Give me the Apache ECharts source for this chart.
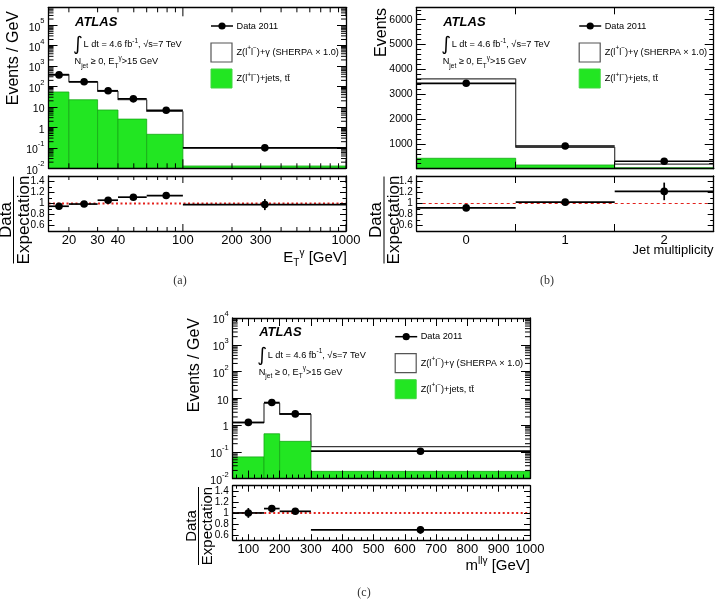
<!DOCTYPE html>
<html>
<head>
<meta charset="utf-8">
<script src="https://cdn.jsdelivr.net/npm/echarts@6.0.0/dist/echarts.min.js"></script>
<style>
html, body { margin: 0; padding: 0; background: #fff; }
#chart { width: 719px; height: 606px; }
</style>
</head>
<body>
<div id="chart"></div>
<script>
// (a) photon transverse energy
const etEdges = [15, 20, 30, 40, 60, 100, 1000];
const etCenters = [17.4, 24.8, 34.8, 49.7, 79, 318];
const etData = [370, 170, 62, 25, 6.9, 0.1];
const etDataErr = [6, 2.8, 1.5, 0.8, 0.3, 0.012];
const etMC = [390, 170, 58.5, 22.5, 6.0, 0.102];
const etBkg = [54, 22.5, 7.1, 2.55, 0.46, 0.013];
const etRatio = [0.95, 0.99, 1.06, 1.115, 1.145, 0.98];
const etRatioErr = [0.02, 0.015, 0.02, 0.025, 0.035, 0.1];
const etTicks = [20, 30, 40, 50, 60, 70, 80, 90, 100, 200, 300, 400, 500, 600, 700, 800, 900, 1000];
const etTickLabels = [20, 30, 40, 100, 200, 300, 1000];

// (b) jet multiplicity
const jetCats = ['0', '1', '2'];
const jetData = [3440, 915, 300];
const jetDataErr = [60, 30, 17];
const jetMC = [3620, 860, 185];
const jetBkg = [420, 150, 40];
const jetRatio = [0.92, 1.025, 1.22];
const jetRatioErr = [0.02, 0.035, 0.16];

// (c) l l gamma mass
const mEdges = [50, 150, 200, 300, 1000];
const mCenters = [100, 175, 250, 650];
const mData = [1.25, 6.9, 2.6, 0.105];
const mDataErr = [0.05, 0.2, 0.1, 0.01];
const mMC = [1.22, 6.5, 2.5, 0.155];
const mBkg = [0.064, 0.47, 0.245, 0.0185];
const mRatio = [1.0, 1.08, 1.03, 0.69];
const mRatioErr = [0.09, 0.035, 0.035, 0.07];

const FONT = '"Liberation Sans", Arial, Helvetica, sans-serif';
const GREEN = '#22e622';
const jetEdges = jetCats.map((c, i) => i - 0.5).concat([jetCats.length - 0.5]);
const jetCenters = jetCats.map((c, i) => i);

const stepData = (edges, vals) => edges.map((e, i) => [e, vals[Math.min(i, vals.length - 1)]]);
const binData = (edges, vals) => vals.map((v, i) => [edges[i], edges[i + 1], v]);
const pointData = (edges, centers, vals, errs) => vals.map((v, i) => [edges[i], edges[i + 1], centers[i], v, errs[i]]);

function renderFill(params, api) {
  const cs = params.coordSys;
  const a = api.coord([api.value(0), api.value(2)]);
  const b = api.coord([api.value(1), api.value(2)]);
  const bottom = cs.y + cs.height;
  return { type: 'rect', shape: { x: a[0], y: a[1], width: b[0] - a[0], height: bottom - a[1] },
    style: { fill: GREEN, stroke: '#16a816', lineWidth: 0.8 } };
}

function renderPoint(params, api) {
  const lo = api.value(0), hi = api.value(1), xc = api.value(2), v = api.value(3), e = api.value(4);
  const l = api.coord([lo, v]), r = api.coord([hi, v]), c = api.coord([xc, v]);
  const t = api.coord([xc, v + e]), b = api.coord([xc, v - e]);
  const st = { stroke: '#000', lineWidth: 1.7 };
  return { type: 'group', children: [
    { type: 'line', shape: { x1: l[0], y1: l[1], x2: r[0], y2: r[1] }, style: st },
    { type: 'line', shape: { x1: c[0], y1: t[1], x2: c[0], y2: b[1] }, style: st },
    { type: 'circle', shape: { cx: c[0], cy: c[1], r: 3.8 }, style: { fill: '#000' } }
  ] };
}

// ticks (and labels) for the log ET axis
function logXTicks(labels, showLabels, majLen, minLen) {
  return function (params, api) {
    const v = api.value(0);
    const cs = params.coordSys;
    const x = api.coord([v, 1])[0];
    const lg = Math.log10(v);
    const len = Math.abs(lg - Math.round(lg)) < 1e-9 ? majLen : minLen;
    const st = { stroke: '#000', lineWidth: 1 };
    const bot = cs.y + cs.height;
    const kids = [
      { type: 'line', shape: { x1: x, y1: bot, x2: x, y2: bot - len }, style: st },
      { type: 'line', shape: { x1: x, y1: cs.y, x2: x, y2: cs.y + len }, style: st }
    ];
    if (showLabels && labels.indexOf(v) >= 0) {
      kids.push({ type: 'text', x: x, y: bot + 3,
        style: { text: String(v), font: '13px ' + FONT, fill: '#000', align: 'center', verticalAlign: 'top' } });
    }
    return { type: 'group', children: kids };
  };
}

function logYMinor(params, api) {
  const cs = params.coordSys;
  const y = api.coord([api.value(0), api.value(1)])[1];
  const st = { stroke: '#000', lineWidth: 1 };
  return { type: 'group', children: [
    { type: 'line', shape: { x1: cs.x, y1: y, x2: cs.x + 5, y2: y }, style: st },
    { type: 'line', shape: { x1: cs.x + cs.width, y1: y, x2: cs.x + cs.width - 5, y2: y }, style: st }
  ] };
}

function minorLogValues(eMin, eMax, max) {
  const out = [];
  for (let e = eMin; e <= eMax; e++) {
    for (let k = 2; k <= 9; k++) {
      const v = k * Math.pow(10, e);
      if (v < max) out.push(v);
    }
  }
  return out;
}

function powLabel(v) {
  const e = Math.log10(v), r = Math.round(e);
  if (Math.abs(e - r) > 1e-6) return '';
  if (r === 0) return '{b|1}';
  if (r === 1) return '{b|10}';
  return '{b|10}{s|' + r + '}';
}
const powRich = {
  b: { fontSize: 10.5, fontFamily: FONT, color: '#000', lineHeight: 16, verticalAlign: 'bottom' },
  s: { fontSize: 7.5, fontFamily: FONT, color: '#000', lineHeight: 8, verticalAlign: 'top' }
};
const ratioLabel = v => (v < 0.55 || v > 1.45) ? '' : String(Math.round(v * 10) / 10);

const line = { show: true, onZero: false, lineStyle: { color: '#000', width: 1.3 } };
const noSplit = { show: false };

const G = [
  { left: 48.5, top: 7.3, width: 297.5, height: 161 },
  { left: 48.5, top: 176, width: 297.5, height: 55 },
  { left: 416.7, top: 7.3, width: 297, height: 161.4 },
  { left: 416.7, top: 176, width: 297, height: 55 },
  { left: 232.7, top: 318, width: 297.3, height: 160.5 },
  { left: 232.7, top: 485.7, width: 297.3, height: 54.5 }
];

function logX(gi, pos, min, max) {
  return { type: 'log', gridIndex: gi, position: pos, min, max, z: 10, axisLine: line,
    axisTick: { show: false }, axisLabel: { show: false }, splitLine: noSplit };
}
function catX(gi, pos, labels) {
  return { type: 'category', gridIndex: gi, position: pos, data: jetCats, boundaryGap: true, z: 10, axisLine: line,
    axisTick: { show: true, inside: true, length: 7, alignWithLabel: false, lineStyle: { color: '#000' } },
    axisLabel: { show: labels, margin: 3, fontSize: 13, fontFamily: FONT, color: '#000' }, splitLine: noSplit };
}
function linX(gi, pos, labels, tickLen) {
  return { type: 'value', gridIndex: gi, position: pos, min: mEdges[0], max: mEdges[mEdges.length - 1], splitNumber: 10, z: 10,
    axisLine: line,
    axisTick: { show: true, inside: true, length: tickLen, lineStyle: { color: '#000' } },
    minorTick: { show: true, splitNumber: 5, length: tickLen / 2, lineStyle: { color: '#000' } },
    axisLabel: { show: labels, margin: 3, fontSize: 13, fontFamily: FONT, color: '#000', showMinLabel: false,
      formatter: v => (v % 100 === 0 ? String(v) : '') },
    splitLine: noSplit };
}
function logY(gi, pos, min, max, labels) {
  return { type: 'log', gridIndex: gi, position: pos, min, max, z: 10, axisLine: line,
    axisTick: { show: true, inside: true, length: 9, lineStyle: { color: '#000' } },
    axisLabel: { show: labels, margin: 4, formatter: powLabel, rich: powRich }, splitLine: noSplit };
}
function ratioY(gi, pos, labels) {
  return { type: 'value', gridIndex: gi, position: pos, min: 0.5, max: 1.5, splitNumber: 5, z: 10, axisLine: line,
    axisTick: { show: true, inside: true, length: 6, lineStyle: { color: '#000' } },
    minorTick: { show: true, splitNumber: 2, length: 3.5, lineStyle: { color: '#000' } },
    axisLabel: { show: labels, margin: 4, fontSize: 10, fontFamily: FONT, color: '#000', formatter: ratioLabel },
    splitLine: noSplit };
}
function countY(gi, pos, labels) {
  return { type: 'value', gridIndex: gi, position: pos, min: 0, max: 6500, interval: 1000, z: 10, axisLine: line,
    axisTick: { show: true, inside: true, length: 9, lineStyle: { color: '#000' } },
    minorTick: { show: true, splitNumber: 5, length: 4.5, lineStyle: { color: '#000' } },
    axisLabel: { show: labels, margin: 4, fontSize: 10.5, fontFamily: FONT, color: '#000',
      formatter: v => (v > 0 && v <= 6000 ? String(v) : '') },
    splitLine: noSplit };
}
const hiddenJetX = gi => ({ type: 'value', gridIndex: gi, show: false, min: jetEdges[0], max: jetEdges[jetEdges.length - 1] });

const xAxis = [
  logX(0, 'bottom', etEdges[0], etEdges[etEdges.length - 1]),   // 0
  logX(0, 'top', etEdges[0], etEdges[etEdges.length - 1]),      // 1
  logX(1, 'bottom', etEdges[0], etEdges[etEdges.length - 1]),   // 2
  logX(1, 'top', etEdges[0], etEdges[etEdges.length - 1]),      // 3
  catX(2, 'bottom', false),                                     // 4
  catX(2, 'top', false),                                        // 5
  hiddenJetX(2),                                                // 6
  catX(3, 'bottom', true),                                      // 7
  catX(3, 'top', false),                                        // 8
  hiddenJetX(3),                                                // 9
  linX(4, 'bottom', false, 8),                                  // 10
  linX(4, 'top', false, 8),                                     // 11
  linX(5, 'bottom', true, 6),                                   // 12
  linX(5, 'top', false, 6)                                      // 13
];
const yAxis = [
  logY(0, 'left', 0.01, 7.5e5, true),   // 0
  logY(0, 'right', 0.01, 7.5e5, false), // 1
  ratioY(1, 'left', true),              // 2
  ratioY(1, 'right', false),            // 3
  countY(2, 'left', true),              // 4
  countY(2, 'right', false),            // 5
  ratioY(3, 'left', true),              // 6
  ratioY(3, 'right', false),            // 7
  logY(4, 'left', 0.01, 1e4, true),     // 8
  logY(4, 'right', 0.01, 1e4, false),   // 9
  ratioY(5, 'left', true),              // 10
  ratioY(5, 'right', false)             // 11
];

function panelSeries(xi, yi, edges, centers, data, err, mc, bkg) {
  return [
    { type: 'line', xAxisIndex: xi, yAxisIndex: yi, data: stepData(edges, mc), step: 'end', showSymbol: false,
      lineStyle: { color: '#3a3a3a', width: 1.2 }, z: 2, silent: true },
    { type: 'custom', xAxisIndex: xi, yAxisIndex: yi, data: binData(edges, bkg), renderItem: renderFill,
      encode: { x: [0, 1], y: 2 }, z: 3, silent: true },
    { type: 'custom', xAxisIndex: xi, yAxisIndex: yi, data: pointData(edges, centers, data, err), renderItem: renderPoint,
      encode: { x: 2, y: 3 }, z: 5, silent: true }
  ];
}
function ratioSeries(xi, yi, edges, centers, ratio, err, dotted) {
  return [
    { type: 'line', xAxisIndex: xi, yAxisIndex: yi, data: [[edges[0], 1], [edges[edges.length - 1], 1]], showSymbol: false,
      lineStyle: dotted ? { color: '#e3211c', width: 2, type: [2, 2.5] } : { color: '#e3211c', width: 1, type: [3, 3] },
      z: 3, silent: true },
    { type: 'custom', xAxisIndex: xi, yAxisIndex: yi, data: pointData(edges, centers, ratio, err), renderItem: renderPoint,
      encode: { x: 2, y: 3 }, z: 5, silent: true }
  ];
}

const series = [].concat(
  panelSeries(0, 0, etEdges, etCenters, etData, etDataErr, etMC, etBkg),
  [{ type: 'custom', xAxisIndex: 0, yAxisIndex: 0, data: etTicks.map(v => [v, 1]),
     renderItem: logXTicks(etTickLabels, false, 9, 5), encode: { x: 0, y: 1 }, z: 10, silent: true },
   { type: 'custom', xAxisIndex: 0, yAxisIndex: 0, data: minorLogValues(-2, 5, 7.5e5).map(v => [etEdges[0], v]),
     renderItem: logYMinor, encode: { x: 0, y: 1 }, z: 10, silent: true }],
  ratioSeries(2, 2, etEdges, etCenters, etRatio, etRatioErr, true),
  [{ type: 'custom', xAxisIndex: 2, yAxisIndex: 2, data: etTicks.map(v => [v, 1]),
     renderItem: logXTicks(etTickLabels, true, 7, 4), encode: { x: 0, y: 1 }, z: 10, silent: true }],
  panelSeries(6, 4, jetEdges, jetCenters, jetData, jetDataErr, jetMC, jetBkg),
  ratioSeries(9, 6, jetEdges, jetCenters, jetRatio, jetRatioErr, false),
  panelSeries(10, 8, mEdges, mCenters, mData, mDataErr, mMC, mBkg),
  [{ type: 'custom', xAxisIndex: 10, yAxisIndex: 8, data: minorLogValues(-2, 3, 1e4).map(v => [mEdges[0] + 1, v]),
     renderItem: logYMinor, encode: { x: 0, y: 1 }, z: 10, silent: true }],
  ratioSeries(12, 10, mEdges, mCenters, mRatio, mRatioErr, true)
);

// ---- text decorations ----
const txtRich = {
  b: { fontSize: 9.2, fontFamily: FONT, fill: '#000', lineHeight: 15, verticalAlign: 'middle' },
  s: { fontSize: 6.5, fontFamily: FONT, fill: '#000', lineHeight: 7, verticalAlign: 'top' },
  d: { fontSize: 6.5, fontFamily: FONT, fill: '#000', lineHeight: 7, verticalAlign: 'bottom' }
};
function rtext(x, y, text, rich, align) {
  return { type: 'text', x, y, silent: true,
    style: { text, rich, fill: '#000', font: '9.2px ' + FONT, align: align || 'left', verticalAlign: 'middle' } };
}
function decor(g) {
  const L = g.left, T = g.top;
  return [
    { type: 'text', x: L + 26.5, y: T + 14.7, silent: true,
      style: { text: 'ATLAS', font: 'italic bold 13px ' + FONT, fill: '#000', align: 'left', verticalAlign: 'middle' } },
    { type: 'text', x: L + 29.5, y: T + 38, silent: true,
      style: { text: '∫', font: '19px "DejaVu Sans", sans-serif', fill: '#000', align: 'center', verticalAlign: 'middle' } },
    rtext(L + 35, T + 37.5, '{b|L dt = 4.6 fb}{s|-1}{b|, √s=7 TeV}', txtRich),
    rtext(L + 26, T + 54.5, '{b|N}{d|jet}{b| ≥ 0, E}{d|T}{s|γ}{b|>15 GeV}', txtRich),
    { type: 'line', silent: true, shape: { x1: L + 162.5, y1: T + 18.7, x2: L + 184.5, y2: T + 18.7 }, style: { stroke: '#000', lineWidth: 1.5 } },
    { type: 'circle', silent: true, shape: { cx: L + 173.5, cy: T + 18.7, r: 3.6 }, style: { fill: '#000' } },
    rtext(L + 188, T + 18.7, '{b|Data 2011}', txtRich),
    { type: 'rect', silent: true, shape: { x: L + 162.5, y: T + 35.7, width: 21, height: 19 }, style: { fill: '#fff', stroke: '#555', lineWidth: 1.2 } },
    rtext(L + 188, T + 45, '{b|Z(l}{s|+}{b|l}{s|−}{b|)+γ (SHERPA × 1.0)}', txtRich),
    { type: 'rect', silent: true, shape: { x: L + 162.5, y: T + 61.7, width: 21, height: 19 }, style: { fill: GREEN, stroke: '#3fd63f', lineWidth: 1 } },
    rtext(L + 188, T + 71.5, '{b|Z(l}{s|+}{b|l}{s|−}{b|)+jets, tt̄}', txtRich)
  ];
}
function vtitle(x, y, text, size) {
  return { type: 'text', x, y, rotation: Math.PI / 2, silent: true,
    style: { text, font: size + 'px ' + FONT, fill: '#000', align: 'right', verticalAlign: 'middle' } };
}
function fraction(cx, cy, half, size, dOff, eOff) {
  const st = { font: size + 'px ' + FONT, fill: '#000', align: 'center', verticalAlign: 'middle' };
  return { type: 'group', x: cx, y: cy, rotation: Math.PI / 2, silent: true, children: [
    { type: 'text', x: 0, y: -dOff, style: Object.assign({ text: 'Data' }, st) },
    { type: 'line', shape: { x1: -half, y1: 0, x2: half, y2: 0 }, style: { stroke: '#000', lineWidth: 1 } },
    { type: 'text', x: 0, y: eOff, style: Object.assign({ text: 'Expectation' }, st) }
  ] };
}
const titleRich = {
  b: { fontSize: 15, fontFamily: FONT, fill: '#000', lineHeight: 20, verticalAlign: 'middle' },
  s: { fontSize: 10, fontFamily: FONT, fill: '#000', lineHeight: 10, verticalAlign: 'top' },
  d: { fontSize: 10, fontFamily: FONT, fill: '#000', lineHeight: 10, verticalAlign: 'bottom' }
};
const capStyle = { font: '12px "Liberation Serif", "DejaVu Serif", serif', fill: '#333', align: 'center', verticalAlign: 'middle' };

const graphic = [].concat(
  decor(G[0]), decor(G[2]), decor(G[4]),
  [
    vtitle(14, 11, 'Events / GeV', 16),
    vtitle(381.5, 8, 'Events', 16),
    vtitle(195, 318, 'Events / GeV', 16),
    fraction(13.5, 220, 43.5, 17, 7.5, 10.5),
    fraction(384, 220, 43.5, 17, 8, 10),
    fraction(198.5, 526, 39, 15, 7, 9),
    rtext(347, 258, '{b|E}{d|T}{s|γ}{b| [GeV]}', titleRich, 'right'),
    { type: 'text', x: 713.5, y: 250, silent: true,
      style: { text: 'Jet multiplicity', font: '13px ' + FONT, fill: '#000', align: 'right', verticalAlign: 'middle' } },
    rtext(530, 566, '{b|m}{s|llγ}{b| [GeV]}', titleRich, 'right'),
    { type: 'text', x: 180, y: 281, silent: true, style: Object.assign({ text: '(a)' }, capStyle) },
    { type: 'text', x: 547, y: 281, silent: true, style: Object.assign({ text: '(b)' }, capStyle) },
    { type: 'text', x: 364, y: 593, silent: true, style: Object.assign({ text: '(c)' }, capStyle) }
  ]
);

const chart = echarts.init(document.getElementById('chart'));
chart.setOption({
  backgroundColor: '#fff',
  animation: false,
  grid: G.map(g => Object.assign({ show: false, containLabel: false }, g)),
  xAxis,
  yAxis,
  series,
  graphic
});
</script>
</body>
</html>
